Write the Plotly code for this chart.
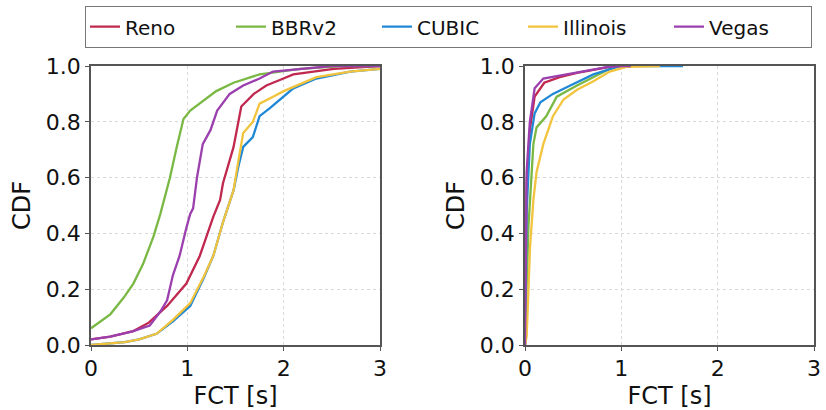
import plotly.graph_objects as go

# ---------------- data ----------------
series_names = ["Reno", "BBRv2", "CUBIC", "Illinois", "Vegas"]
series_colors = ["#c0284e", "#7ab844", "#2088d4", "#f2c33c", "#9c3fae"]

x_ticks = [0, 1, 2, 3]
y_ticks = [0.0, 0.2, 0.4, 0.6, 0.8, 1.0]

# Left panel (FCT CDF)
reno_left_x = [0, 0.2, 0.44, 0.6, 0.79, 0.99, 1.13, 1.27, 1.34, 1.37, 1.48, 1.56, 1.69, 1.82, 1.96, 2.1, 2.52, 3.0]
reno_left_y = [0.02, 0.03, 0.05, 0.08, 0.14, 0.22, 0.32, 0.46, 0.52, 0.58, 0.71, 0.855, 0.90, 0.93, 0.95, 0.97, 0.99, 1.0]

bbr_left_x = [0, 0.2, 0.34, 0.44, 0.54, 0.65, 0.72, 0.82, 0.89, 0.96, 1.03, 1.3, 1.48, 1.75, 2.17, 2.6, 3.0]
bbr_left_y = [0.06, 0.11, 0.17, 0.22, 0.29, 0.39, 0.47, 0.60, 0.71, 0.81, 0.84, 0.91, 0.94, 0.97, 0.99, 1.0, 1.0]

cubic_left_x = [0, 0.35, 0.5, 0.68, 0.85, 1.03, 1.17, 1.27, 1.37, 1.48, 1.53, 1.58, 1.68, 1.75, 1.86, 1.96, 2.1, 2.34, 2.69, 3.0]
cubic_left_y = [0.0, 0.01, 0.02, 0.04, 0.085, 0.14, 0.24, 0.32, 0.44, 0.555, 0.64, 0.71, 0.745, 0.82, 0.85, 0.88, 0.92, 0.955, 0.98, 0.99]

illinois_left_x = [0, 0.35, 0.5, 0.68, 0.85, 1.03, 1.17, 1.27, 1.37, 1.48, 1.53, 1.58, 1.68, 1.75, 1.89, 2.0, 2.34, 2.69, 3.0]
illinois_left_y = [0.0, 0.01, 0.02, 0.04, 0.09, 0.15, 0.245, 0.32, 0.44, 0.555, 0.66, 0.76, 0.80, 0.865, 0.89, 0.91, 0.96, 0.98, 0.99]

vegas_left_x = [0, 0.2, 0.44, 0.61, 0.72, 0.79, 0.85, 0.92, 0.99, 1.03, 1.06, 1.10, 1.16, 1.24, 1.31, 1.44, 1.58, 1.75, 1.89, 2.17, 2.5, 3.0]
vegas_left_y = [0.02, 0.03, 0.05, 0.07, 0.12, 0.16, 0.25, 0.32, 0.42, 0.47, 0.49, 0.60, 0.72, 0.77, 0.84, 0.90, 0.93, 0.955, 0.98, 0.99, 1.0, 1.0]

# Right panel (FCT CDF)
reno_right_x = [0, 0.005, 0.017, 0.05, 0.10, 0.2, 0.36, 0.54, 0.71, 0.85, 1.0, 1.1]
reno_right_y = [0, 0.25, 0.58, 0.77, 0.89, 0.94, 0.96, 0.975, 0.985, 0.995, 1.0, 1.0]

bbr_right_x = [0, 0.015, 0.035, 0.087, 0.12, 0.22, 0.33, 0.54, 0.71, 0.88, 1.0, 1.1]
bbr_right_y = [0, 0.15, 0.42, 0.72, 0.78, 0.82, 0.89, 0.93, 0.96, 0.99, 1.0, 1.0]

cubic_right_x = [0, 0.008, 0.017, 0.05, 0.10, 0.16, 0.29, 0.47, 0.71, 0.85, 0.99, 1.3, 1.64]
cubic_right_y = [0, 0.2, 0.48, 0.72, 0.83, 0.87, 0.90, 0.93, 0.97, 0.985, 1.0, 1.0, 1.0]

illinois_right_x = [0, 0.017, 0.035, 0.052, 0.087, 0.12, 0.19, 0.29, 0.40, 0.54, 0.71, 0.88, 1.05, 1.4]
illinois_right_y = [0, 0.03, 0.19, 0.35, 0.52, 0.62, 0.72, 0.82, 0.88, 0.915, 0.945, 0.98, 0.997, 1.0]

vegas_right_x = [0, 0.005, 0.017, 0.05, 0.10, 0.19, 0.36, 0.54, 0.71, 0.85, 1.0, 1.1]
vegas_right_y = [0, 0.3, 0.62, 0.80, 0.92, 0.955, 0.965, 0.978, 0.988, 0.996, 1.0, 1.0]

left_data = [(reno_left_x, reno_left_y), (bbr_left_x, bbr_left_y), (cubic_left_x, cubic_left_y),
             (illinois_left_x, illinois_left_y), (vegas_left_x, vegas_left_y)]
right_data = [(reno_right_x, reno_right_y), (bbr_right_x, bbr_right_y), (cubic_right_x, cubic_right_y),
              (illinois_right_x, illinois_right_y), (vegas_right_x, vegas_right_y)]

# ---------------- figure ----------------
W, H = 826, 410
FONT = "DejaVu Sans"
fig = go.Figure()

for i, name in enumerate(series_names):
    lx, ly = left_data[i]
    rx, ry = right_data[i]
    fig.add_trace(go.Scatter(x=lx, y=ly, mode="lines", name=name,
                             line=dict(color=series_colors[i], width=2.3),
                             xaxis="x", yaxis="y", legendgroup=name,
                             legendwidth=96 if name == "Vegas" else 101))
    fig.add_trace(go.Scatter(x=rx, y=ry, mode="lines", name=name, showlegend=False,
                             line=dict(color=series_colors[i], width=2.3),
                             xaxis="x2", yaxis="y2", legendgroup=name))

ydom = [(H - 345) / H, (H - 66) / H]
axis_common = dict(
    showline=True, linecolor="#555555", linewidth=1.5, mirror=True,
    ticks="outside", ticklen=4, tickwidth=1.2, tickcolor="#555555",
    showgrid=True, gridcolor="#d9d9d9", griddash="dot", gridwidth=1,
    zeroline=False, automargin=False,
    tickfont=dict(family=FONT, size=22, color="#111111"),
)

xaxis_common = dict(axis_common, range=[0, 3], tickvals=x_ticks, ticktext=[str(t) for t in x_ticks],
                    ticklabelstandoff=-1,
                    title=dict(text="FCT [s]", font=dict(family=FONT, size=24, color="#111111"), standoff=7))
yaxis_common = dict(axis_common, range=[0, 1], tickvals=y_ticks, ticktext=[f"{t:.1f}" for t in y_ticks],
                    title=dict(text="CDF", font=dict(family=FONT, size=24, color="#111111"), standoff=8))

fig.update_layout(
    width=W, height=H,
    margin=dict(l=0, r=0, t=0, b=0, pad=0, autoexpand=False),
    paper_bgcolor="white", plot_bgcolor="white",
    font=dict(family=FONT, size=21, color="#111111"),
    xaxis=dict(xaxis_common, domain=[91 / W, 380 / W], anchor="y"),
    yaxis=dict(yaxis_common, domain=ydom, anchor="x"),
    xaxis2=dict(xaxis_common, domain=[525 / W, 814 / W], anchor="y2"),
    yaxis2=dict(yaxis_common, domain=ydom, anchor="x2"),
    legend=dict(orientation="h", x=85 / W, y=1 - 6 / H, xanchor="left", yanchor="top",
                bordercolor="#777777", borderwidth=1.2, bgcolor="white",
                font=dict(family=FONT, size=20, color="#111111"),
                entrywidthmode="pixels", entrywidth=101, tracegroupgap=0),
    showlegend=True,
)

fig.write_html("out.html", config={"displayModeBar": False},
               post_script="document.body.style.margin='0';")
